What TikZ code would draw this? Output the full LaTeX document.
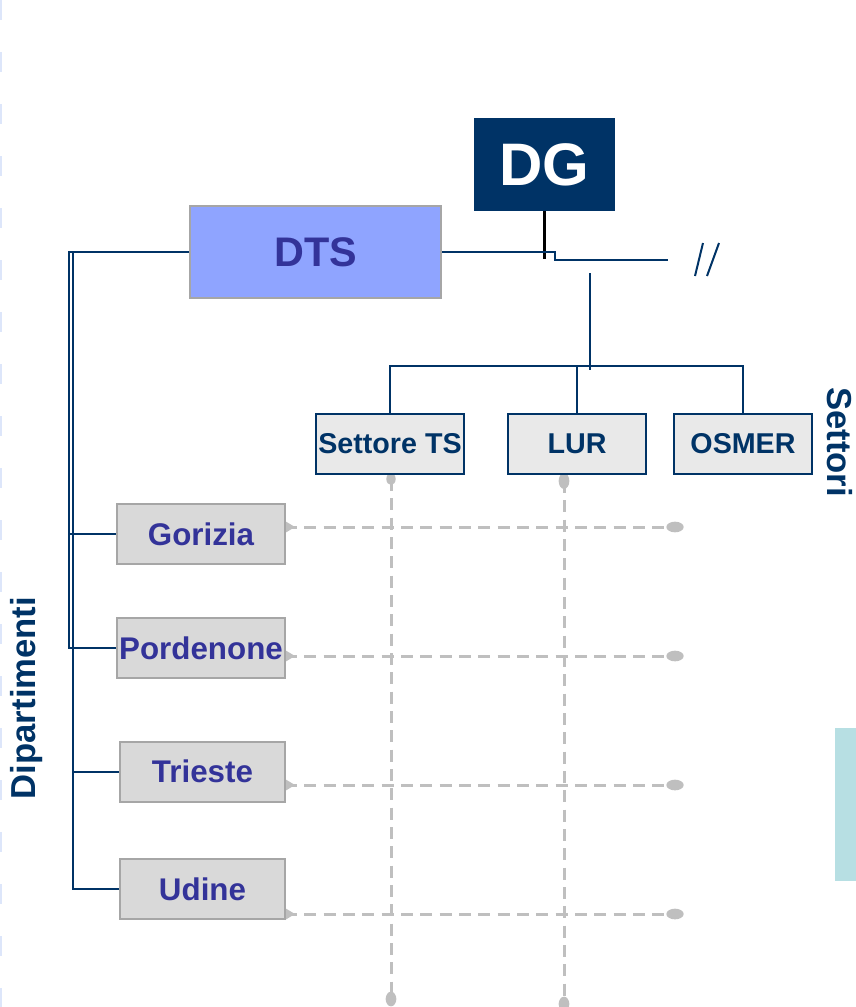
\documentclass[tikz,border=0pt]{standalone}
\usepackage{fontspec}
\setmainfont{Liberation Sans}
\usetikzlibrary{backgrounds}
\definecolor{navy}{HTML}{003366}
\definecolor{dtsfill}{HTML}{8FA4FF}
\definecolor{deptblue}{HTML}{333399}
\definecolor{deptfill}{HTML}{D9D9D9}
\definecolor{deptborder}{HTML}{A6A6A6}
\definecolor{setfill}{HTML}{E9E9E9}
\definecolor{dgray}{HTML}{BFBFBF}
\definecolor{tealbar}{HTML}{B7DFE3}
\definecolor{edgeblue}{HTML}{DDE6FA}
\begin{document}
\begin{tikzpicture}[x=0.75pt,y=-0.75pt,
  conn/.style={draw=navy, line width=1.5pt},
  dashline/.style={draw=dgray, line width=2.25pt, dash pattern=on 9pt off 5.5pt},
  dotend/.style={fill=dgray},
  deptbox/.style={draw=deptborder, fill=deptfill, line width=1.5pt, text=deptblue,
    font=\bfseries\fontsize{23.5}{26}\selectfont, minimum height=45pt, inner sep=0pt},
  setbox/.style={draw=navy, fill=setfill, line width=1.5pt, text=navy,
    font=\bfseries\fontsize{21.5}{24}\selectfont, minimum height=45pt, inner sep=0pt},
  sidelabel/.style={text=navy, font=\bfseries\fontsize{26}{28}\selectfont, inner sep=0pt}]
\useasboundingbox (0,0) rectangle (856,1007);

% faint left edge
\draw[edgeblue, line width=1.2pt, dash pattern=on 15pt off 24pt] (1,0) -- (1,1007);

% teal bar
\fill[tealbar] (835,728) rectangle (856,881);

% top boxes
\node[fill=navy, text=white, minimum width=105.75pt, minimum height=69.75pt, inner sep=0pt,
  font=\bfseries\fontsize{45}{48}\selectfont] (dg) at (544.5,164.5) {DG};
\node[draw=deptborder, fill=dtsfill, line width=1.5pt, text=deptblue, minimum width=188.25pt,
  minimum height=69pt, inner sep=0pt, font=\bfseries\fontsize{31}{34}\selectfont] (dts) at (315.5,252) {DTS};

% sector boxes
\node[setbox, minimum width=111pt] (ts) at (390,444) {Settore TS};
\node[setbox, minimum width=103.5pt] (lur) at (577,444) {LUR};
\node[setbox, minimum width=103.5pt] (osm) at (743,444) {OSMER};

% department boxes
\node[deptbox, minimum width=126pt] (gor) at (201,534) {Gorizia};
\node[deptbox, minimum width=126pt] (por) at (201,648) {Pordenone};
\node[deptbox, minimum width=123.75pt] (tri) at (202.5,771.5) {Trieste};
\node[deptbox, minimum width=123.75pt] (udi) at (202.5,889) {Udine};

% side labels
\node[sidelabel, rotate=90] (dip) at (27,698) {Dipartimenti};
\node[sidelabel, rotate=-90] (set) at (840,442) {Settori};

% coordinates
\coordinate (dgend) at (544.5,259);
\coordinate (step) at (555,260);
\coordinate (brkend) at (668,260);
\coordinate (sTop) at (590,273);
\coordinate (sBot) at (590,370);
\coordinate (bus) at (590,366);
\coordinate (lA) at (69,252);
\coordinate (lB) at (72.5,252);

% DG / DTS connectors
\draw[black, line width=2pt] (dg.south) -- (dgend);
\draw[conn] (dts.east) -| (step) -- (brkend);
\draw[navy, line width=1.5pt] (703,243) -- (695,276);
\draw[navy, line width=1.5pt] (719,243) -- (707,276);

% sector bus
\draw[conn] (sTop) -- (sBot);
\draw[conn] (ts.north) |- (bus) -| (osm.north);
\draw[conn] (lur.north) -- (lur.north |- bus);

% department connectors
\draw[conn] (dts.west) -- (lA) |- (por.west);
\draw[conn] (lA |- gor.west) -- (gor.west);
\draw[conn] (lB) |- (udi.west);
\draw[conn] (lB |- tri.west) -- (tri.west);

% dashed grid
\coordinate (h1a) at (285,527); \coordinate (h1b) at (675,527);
\coordinate (h2a) at (285,656); \coordinate (h2b) at (675,656);
\coordinate (h3a) at (285,785); \coordinate (h3b) at (675,785);
\coordinate (h4a) at (285,914); \coordinate (h4b) at (675,914);
\coordinate (v1a) at (391,479); \coordinate (v1b) at (391,999);
\coordinate (v2a) at (564,481); \coordinate (v2b) at (564,1004);

\begin{scope}[on background layer]
\foreach \s/\e in {h1a/h1b,h2a/h2b,h3a/h3b,h4a/h4b}{
  \draw[dashline] (\s) -- (\e);
  \fill[dotend] (\s) ++(0,-6) -- ++(10,6) -- ++(-10,6) -- cycle;
  \fill[dotend] (\e) ellipse [x radius=6.5pt, y radius=4pt];
}
\draw[dashline] (v1a) -- (v1b);
\draw[dashline] (v2a) -- (v2b);
\fill[dotend] (v1a) ellipse [x radius=3.5pt, y radius=4.5pt];
\fill[dotend] (v2a) ellipse [x radius=4pt, y radius=6pt];
\fill[dotend] (v1b) ellipse [x radius=4pt, y radius=5.5pt];
\fill[dotend] (v2b) ellipse [x radius=4pt, y radius=5.5pt];
\end{scope}
\end{tikzpicture}
\end{document}
